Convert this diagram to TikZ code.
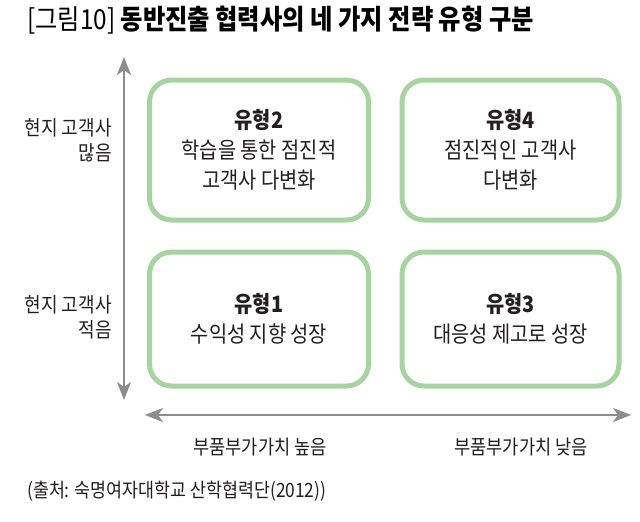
\documentclass[tikz,border=0pt]{standalone}
\usepackage{fontspec}
\setmainfont{Noto Sans CJK KR}[FakeStretch=0.88]
\usetikzlibrary{arrows.meta}
\definecolor{boxgreen}{RGB}{166,211,160}
\definecolor{arrgray}{RGB}{140,140,142}
\definecolor{txt}{RGB}{35,31,32}
\begin{document}
\begin{tikzpicture}[x=1pt,y=-1pt,
  quad/.style={draw=boxgreen, line width=5pt, rounded corners=22pt, minimum width=219pt,
    align=center, font=\fontsize{22.5}{30}\selectfont, text=txt, inner sep=0pt},
  axisline/.style={draw=arrgray, line width=2.5pt,
    {Stealth[length=18pt,width=14pt,inset=5pt]}-{Stealth[length=18pt,width=14pt,inset=5pt]}},
  sidelab/.style={anchor=east, align=right, text=txt, font=\fontsize{20.5}{25}\selectfont, inner sep=0pt},
  botlab/.style={text=txt, font=\fontsize{20}{25}\selectfont, inner sep=0pt},
  ]
\useasboundingbox (0,0) rectangle (640,522);
\node[anchor=west, inner sep=0pt, text=black, font=\fontsize{27.6}{30}\selectfont] (title) at (27,20)
  {[그림10] \textbf{동반진출 협력사의 네 가지 전략 유형 구분}};
\node[quad, minimum height=140pt] (t2) at (259,150) {\textbf{유형2}\\학습을 통한 점진적\\고객사 다변화};
\node[quad, minimum height=140pt, minimum width=217pt] (t4) at (510.5,150) {\textbf{유형4}\\점진적인 고객사\\다변화};
\node[quad, minimum height=134pt] (t1) at (259,319) {\textbf{유형1}\\수익성 지향 성장};
\node[quad, minimum height=134pt, minimum width=217pt] (t3) at (510.5,319) {\textbf{유형3}\\대응성 제고로 성장};
\coordinate (vtop) at (124,57);
\coordinate (vbot) at (124,400);
\coordinate (hl) at (145,415);
\coordinate (hr) at (631,415);
\draw[axisline] (vbot) -- (vtop);
\draw[axisline] (hl) -- (hr);
\node[sidelab] (lmany) at (112,140) {현지 고객사\\많음};
\node[sidelab] (lfew) at (112,317.5) {현지 고객사\\적음};
\node[botlab] (bhigh) at (260,447) {부품부가가치 높음};
\node[botlab] (blow) at (521,447) {부품부가가치 낮음};
\node[anchor=west, inner sep=0pt, text=txt, font=\fontsize{19.7}{22}\selectfont] (src) at (27,491)
  {(출처: 숙명여자대학교 산학협력단(2012))};
\end{tikzpicture}
\end{document}
